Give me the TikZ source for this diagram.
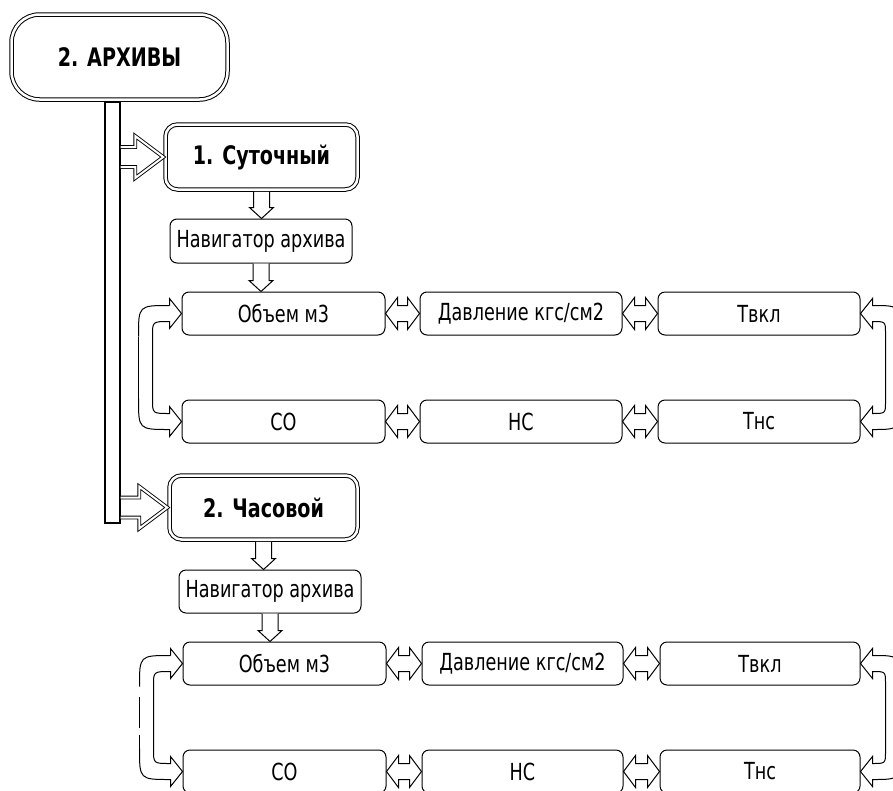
\documentclass[tikz,border=0pt]{standalone}
\usepackage{fontspec}
\setmainfont{DejaVu Sans}[FakeStretch=0.75]
\usetikzlibrary{calc}
\newcommand\dnarrow[2]{%
  \coordinate (dtip) at (#1.south |- #2.north);
  \draw[blk] ($(#1.south)+(-8,0)$) -- ($(dtip)+(-8,-11)$) -- ($(dtip)+(-12,-11)$) -- (dtip)
    -- ($(dtip)+(12,-11)$) -- ($(dtip)+(8,-11)$) -- ($(#1.south)+(8,0)$);}
\newcommand\lrarrow[2]{%
  \coordinate (pa) at (#1.east); \coordinate (pb) at (#2.west);
  \draw[blk] (pa) -- ($(pa)+(12,-16)$) -- ($(pa)+(12,-8)$) -- ($(pb)+(-12,-8)$) -- ($(pb)+(-12,-16)$)
    -- (pb) -- ($(pb)+(-12,16)$) -- ($(pb)+(-12,8)$) -- ($(pa)+(12,8)$) -- ($(pa)+(12,16)$) -- cycle;}
\newcommand\bararrow[2]{%
  \coordinate (qa) at (#1.east |- #2.west); \coordinate (qb) at (#2.west);
  \draw[dblk] ($(qa)+(0,-10)$) -- ($(qb)+(-28,-10)$) -- ($(qb)+(-28,-21)$) -- (qb)
    -- ($(qb)+(-28,21)$) -- ($(qb)+(-28,10)$) -- ($(qa)+(0,10)$);}
\newcommand\leftloop[3]{%
  \coordinate (la) at (#1.west); \coordinate (lb) at (#2.west);
  \draw[blk] ($(la)+(-12,-8)$) -- ($(la)+(-12,-15)$) -- (la) -- ($(la)+(-12,15)$) -- ($(la)+(-12,8)$)
    .. controls ($(la)+(-29,8)$) .. ($(la)+(-29,22)$)
    -- ($(lb)+(-29,-22)$) .. controls ($(lb)+(-29,-8)$) .. ($(lb)+(-12,-8)$)
    -- ($(lb)+(-12,-15)$) -- (lb) -- ($(lb)+(-12,15)$) -- ($(lb)+(-12,8)$)
    .. controls ($(lb)+(-43,8)$) .. ($(lb)+(-43,-23)$);
  \draw[blk,#3] ($(lb)+(-43,-23)$) -- ($(la)+(-43,23)$);
  \draw[blk] ($(la)+(-43,23)$) .. controls ($(la)+(-43,-8)$) .. ($(la)+(-12,-8)$);}
\newcommand\rightloop[2]{%
  \coordinate (ra) at (#1.east); \coordinate (rb) at (#2.east);
  \draw[blk] ($(ra)+(12,-8)$) -- ($(ra)+(12,-15)$) -- (ra) -- ($(ra)+(12,15)$) -- ($(ra)+(12,8)$)
    .. controls ($(ra)+(25,8)$) .. ($(ra)+(25,20)$)
    -- ($(rb)+(25,-20)$) .. controls ($(rb)+(25,-8)$) .. ($(rb)+(12,-8)$)
    -- ($(rb)+(12,-15)$) -- (rb) -- ($(rb)+(12,15)$) -- ($(rb)+(12,8)$)
    .. controls ($(rb)+(39,8)$) .. ($(rb)+(39,-19)$)
    -- ($(ra)+(39,19)$) .. controls ($(ra)+(39,-8)$) .. ($(ra)+(12,-8)$) -- cycle;}
\begin{document}
\begin{tikzpicture}[x=1pt,y=-1pt,
  box/.style={draw,line width=1pt,rounded corners=7pt,minimum height=43pt,inner sep=0pt,
    font=\fontsize{23.5}{27}\selectfont},
  wbox/.style={box,minimum width=203pt},
  title/.style={draw,fill=white,line width=1pt,double,double distance=2.5pt,inner sep=0pt,
    outer sep=2.25pt,font=\bfseries\fontsize{25.5}{29}\selectfont},
  blk/.style={draw,line width=1pt,fill=white,line join=miter},
  dblk/.style={draw,line width=0.9pt,double,double distance=2pt,line join=miter}]
\useasboundingbox (0,0) rectangle (893,790);
\clip (0,0) rectangle (893,790);
% vertical bar
\node[draw,line width=1.4pt,fill=white,minimum width=15pt,minimum height=421pt,inner sep=0pt] (bar) at (112.5,312.5) {};
\node[title,rounded corners=28pt,minimum width=216pt,minimum height=85pt] (arch) at (119.5,57) {2. АРХИВЫ};
% section 1
\node[title,rounded corners=12pt,minimum width=192pt,minimum height=65pt] (sut) at (261.5,157) {1. Суточный};
\node[box,minimum width=182pt,minimum height=44pt] (nav1) at (261,241) {Навигатор архива};
\node[wbox] (o1) at (283.5,313.5) {Объем м3};
\node[wbox,minimum width=202pt] (d1) at (521,313.5) {Давление кгс/см2};
\node[wbox,minimum width=202pt] (t1) at (759,313.5) {Твкл};
\node[wbox] (c1) at (283.5,421.5) {СО};
\node[wbox,minimum width=202pt] (n1) at (521,421.5) {НС};
\node[wbox,minimum width=202pt] (tn1) at (759,421.5) {Тнс};
% section 2
\node[title,rounded corners=12pt,minimum width=188pt,minimum height=64pt] (chas) at (263.5,507.5) {2. Часовой};
\node[box,minimum width=182pt,minimum height=43pt] (nav2) at (270,591.5) {Навигатор архива};
\node[wbox] (o2) at (284.5,663.5) {Объем м3};
\node[wbox,minimum width=201pt] (d2) at (522.5,663.5) {Давление кгс/см2};
\node[wbox,minimum width=200pt] (t2) at (760,663.5) {Твкл};
\node[wbox] (c2) at (284.5,771.5) {СО};
\node[wbox,minimum width=201pt] (n2) at (522.5,771.5) {НС};
\node[wbox,minimum width=200pt] (tn2) at (760,771.5) {Тнс};
% connectors
\bararrow{bar}{sut}
\bararrow{bar}{chas}
\dnarrow{sut}{nav1}
\dnarrow{nav1}{o1}
\dnarrow{chas}{nav2}
\dnarrow{nav2}{o2}
\lrarrow{o1}{d1}
\lrarrow{d1}{t1}
\lrarrow{c1}{n1}
\lrarrow{n1}{tn1}
\lrarrow{o2}{d2}
\lrarrow{d2}{t2}
\lrarrow{c2}{n2}
\lrarrow{n2}{tn2}
\leftloop{o1}{c1}{}
\leftloop{o2}{c2}{dash pattern=on 14pt off 7pt on 31pt off 15pt}
\rightloop{t1}{tn1}
\rightloop{t2}{tn2}
\end{tikzpicture}
\end{document}
